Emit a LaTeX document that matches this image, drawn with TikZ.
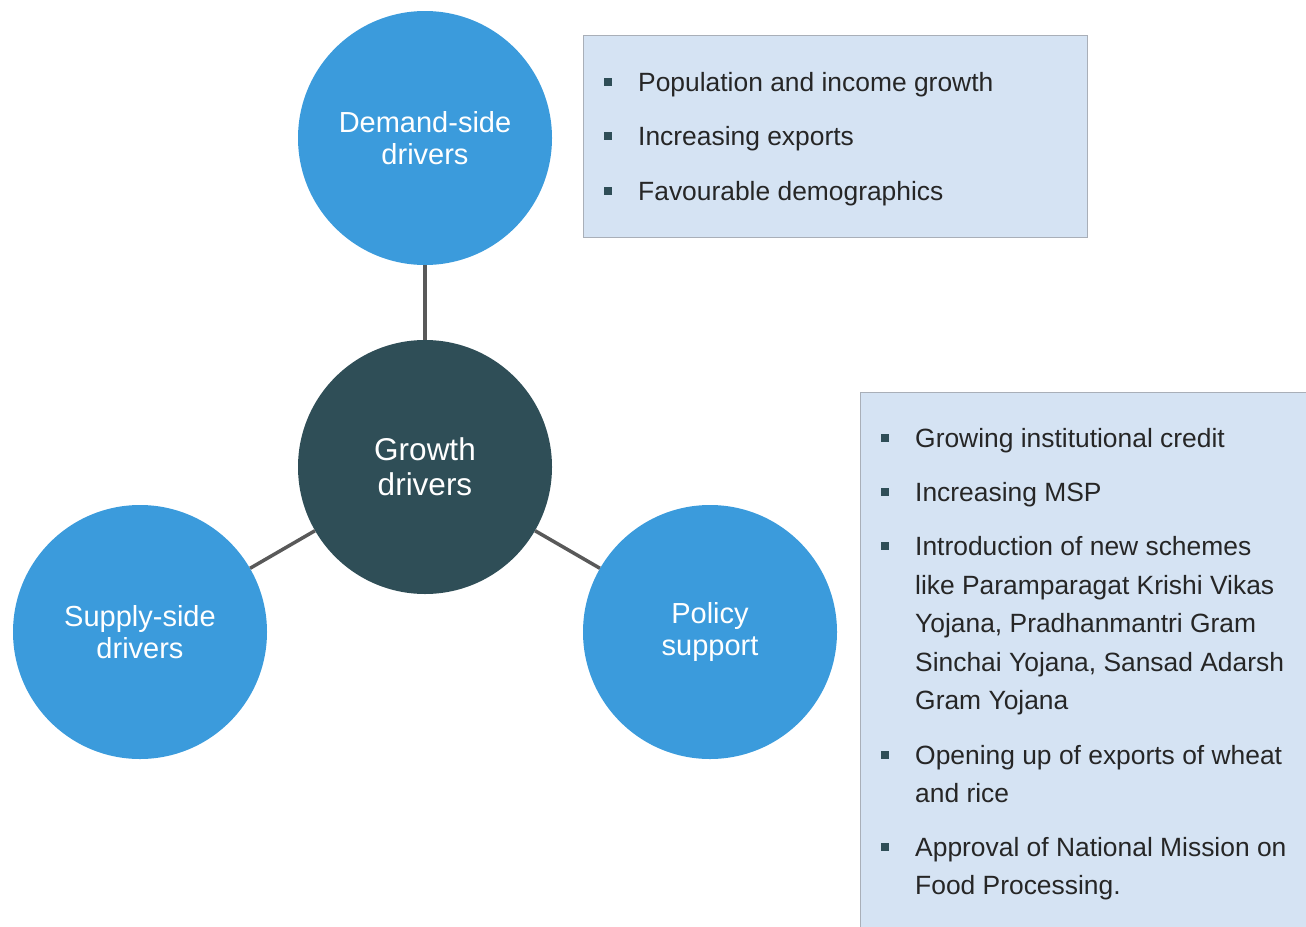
\documentclass[tikz,border=0pt]{standalone}
\usepackage{fontspec}
\setmainfont{Liberation Sans}
\usepackage{xcolor}
\definecolor{driverblue}{HTML}{3B9BDC}
\definecolor{growthdark}{HTML}{2F4E57}
\definecolor{boxfill}{HTML}{D5E3F3}
\definecolor{boxline}{HTML}{A9AFB8}
\definecolor{linkgray}{HTML}{595959}
\definecolor{textdark}{HTML}{262626}
\begin{document}
\begin{tikzpicture}[x=1pt,y=-1pt,
    driver/.style={circle, fill=driverblue, minimum size=254pt, inner sep=0pt,
      text=white, align=center, font=\fontsize{29}{32}\selectfont},
    hub/.style={driver, fill=growthdark, font=\fontsize{31.5}{35}\selectfont},
    link/.style={draw=linkgray, line width=3.5pt},
    infobox/.style={draw=boxline, fill=boxfill, line width=0.8pt},
    item/.style={anchor=base west, inner sep=0pt, text=textdark,
      font=\fontsize{26.4}{30}\selectfont},
    bullet/.style={fill=growthdark, minimum size=7.5pt, inner sep=0pt}]
  \useasboundingbox (0,0) rectangle (1306,926);
  % bullet boxes
  \draw[infobox] (583,35) rectangle (1087,237);
  \draw[infobox] (860,392) rectangle (1306,930);
  % circles
  \node[driver] (demand) at (425,138) {Demand-side\\drivers};
  \node[hub] (growth) at (425,467) {Growth\\drivers};
  \node[driver] (supply) at (140,632) {Supply-side\\drivers};
  \node[driver] (policy) at (710,632) {Policy\\support};
  \draw[link] (growth) -- (demand);
  \draw[link] (growth) -- (supply);
  \draw[link] (growth) -- (policy);
  % demand list
  \foreach \y/\t [count=\i] in {82/Population and income growth,
      136/Increasing exports, 191/Favourable demographics}{
    \node[bullet] (db\i) at (608,\y) {};
    \node[item] (dt\i) at (638,\y+9.5) {\t};
  }
  % policy list
  \foreach \y [count=\i] in {438,492,546,755,847}
    \node[bullet] (pb\i) at (885,\y) {};
  \foreach \y/\t [count=\i] in {438/Growing institutional credit,
      492/Increasing MSP, 546/Introduction of new schemes,
      585/like Paramparagat Krishi Vikas, 623/{Yojana, Pradhanmantri Gram},
      662/{Sinchai Yojana, Sansad Adarsh}, 700/Gram Yojana,
      755/Opening up of exports of wheat, 793/and rice,
      847/Approval of National Mission on, 885/Food Processing.}
    \node[item] (pt\i) at (915,\y+9.5) {\t};
\end{tikzpicture}
\end{document}
